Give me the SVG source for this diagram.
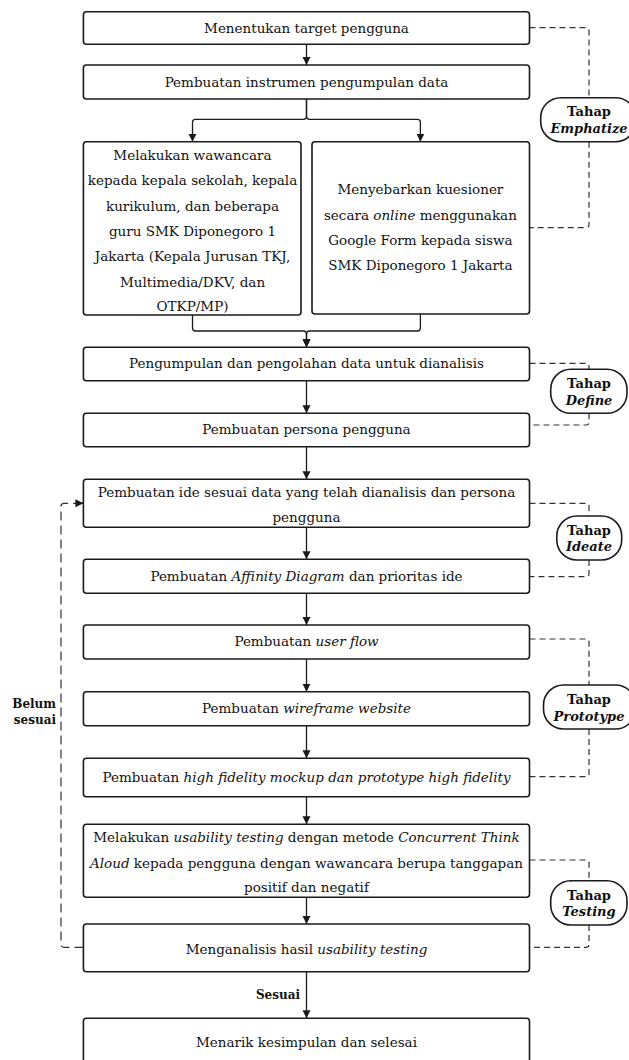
<svg xmlns="http://www.w3.org/2000/svg" width="629" height="1060" viewBox="0 0 629 1060">
<style>
.box{fill:#fff;stroke:#1a1a1a;stroke-width:1.6}
.pill{fill:#fff;stroke:#1a1a1a;stroke-width:1.6}
.t{font-family:"DejaVu Serif","Liberation Serif",serif;font-size:13.5px;fill:#111;text-anchor:middle}
.p{font-family:"DejaVu Serif","Liberation Serif",serif;font-size:13px;font-weight:bold;fill:#111;text-anchor:middle}
.lbl{font-family:"DejaVu Serif","Liberation Serif",serif;font-size:12px;font-weight:bold;fill:#111}
.i{font-style:italic}
.c{fill:none;stroke:#1a1a1a;stroke-width:1.3}
.d{fill:none;stroke:#333;stroke-width:1.2;stroke-dasharray:6 4}
.dl{fill:none;stroke:#333;stroke-width:1.2;stroke-dasharray:9 5}
</style>
<defs>
<marker id="arr" markerUnits="userSpaceOnUse" markerWidth="8" markerHeight="9" refX="8" refY="4" orient="auto">
<path d="M0,0 L8,4 L0,8 Z" fill="#1a1a1a"/>
</marker>
</defs>
<rect width="629" height="1060" fill="#fff"/>
<g id="connectors">
<path class="c" d="M306.5,44.3 V65" marker-end="url(#arr)"/>
<path class="c" d="M306.5,99 V116.3 Q306.5,119.3 303.5,119.3 H195.5 Q192.5,119.3 192.5,122.3 V141.7" marker-end="url(#arr)"/>
<path class="c" d="M306.5,99 V116.3 Q306.5,119.3 309.5,119.3 H417.4 Q420.4,119.3 420.4,122.3 V141.7" marker-end="url(#arr)"/>
<path class="c" d="M192.5,315 V328 Q192.5,331 195.5,331 H303.5 Q306.5,331 306.5,334 V347.3" marker-end="url(#arr)"/>
<path class="c" d="M420.4,314 V328 Q420.4,331 417.4,331 H309.5 Q306.5,331 306.5,334 V347.3" marker-end="url(#arr)"/>
<path class="c" d="M306.5,380.7 V413.3" marker-end="url(#arr)"/>
<path class="c" d="M306.5,446.7 V479.3" marker-end="url(#arr)"/>
<path class="c" d="M306.5,527.3 V559.3" marker-end="url(#arr)"/>
<path class="c" d="M306.5,593.3 V625" marker-end="url(#arr)"/>
<path class="c" d="M306.5,659 V691.7" marker-end="url(#arr)"/>
<path class="c" d="M306.5,725.7 V758.3" marker-end="url(#arr)"/>
<path class="c" d="M306.5,796.7 V824.3" marker-end="url(#arr)"/>
<path class="c" d="M306.5,897.3 V924" marker-end="url(#arr)"/>
<path class="c" d="M306.5,971.7 V1018.3" marker-end="url(#arr)"/>
<path class="dl" d="M83.4,947.3 H64 Q61,947.3 61,944.3 V506.3 Q61,503.3 64,503.3 H80" />
<path class="c" d="M76,503.3 H83.4" marker-end="url(#arr)"/>
<path class="d" d="M529.5,27.7 H586 Q589,27.7 589,30.7 V97.7"/>
<path class="d" d="M589,141.7 V224.7 Q589,227.7 586,227.7 H529.5"/>
<path class="d" d="M529.5,363.3 H586 Q589,363.3 589,366.3 V369.3"/>
<path class="d" d="M589,413.3 V422 Q589,425 586,425 H529.5"/>
<path class="d" d="M529.5,503.3 H586 Q589,503.3 589,506.3 V516"/>
<path class="d" d="M589,560 V573.7 Q589,576.7 586,576.7 H529.5"/>
<path class="d" d="M529.5,639 H586 Q589,639 589,642 V685"/>
<path class="d" d="M589,729 V773.7 Q589,776.7 586,776.7 H529.5"/>
<path class="d" d="M529.5,860 H586 Q589,860 589,863 V880.7"/>
<path class="d" d="M589,925 V944.3 Q589,947.3 586,947.3 H529.5"/>
</g>
<g id="n1"><rect class="box" x="83.4" y="11.7" width="446.1" height="32.6" rx="3"/><text class="t" x="306.5" y="32.7">Menentukan target pengguna</text></g>
<g id="n2"><rect class="box" x="83.4" y="65" width="446.1" height="34" rx="3"/><text class="t" x="306.5" y="86.7">Pembuatan instrumen pengumpulan data</text></g>
<g id="n3"><rect class="box" x="83.4" y="141.7" width="217.6" height="173.3" rx="3"/>
<text class="t" x="192.5" y="159.7">Melakukan wawancara</text>
<text class="t" x="192.5" y="185.2">kepada kepala sekolah, kepala</text>
<text class="t" x="192.5" y="210.7">kurikulum, dan beberapa</text>
<text class="t" x="192.5" y="236.2">guru SMK Diponegoro 1</text>
<text class="t" x="192.5" y="261.4">Jakarta (Kepala Jurusan TKJ,</text>
<text class="t" x="192.5" y="286.7">Multimedia/DKV, dan</text>
<text class="t" x="192.5" y="311.4">OTKP/MP)</text></g>
<g id="n4"><rect class="box" x="312" y="141.7" width="217.5" height="172.3" rx="3"/>
<text class="t" x="420.4" y="194">Menyebarkan kuesioner</text>
<text class="t" x="420.4" y="219.7">secara <tspan class="i">online</tspan> menggunakan</text>
<text class="t" x="420.4" y="244.7">Google Form kepada siswa</text>
<text class="t" x="420.4" y="270.4">SMK Diponegoro 1 Jakarta</text></g>
<g id="n5"><rect class="box" x="83.4" y="347.3" width="446.1" height="33.4" rx="3"/><text class="t" x="306.5" y="368">Pengumpulan dan pengolahan data untuk dianalisis</text></g>
<g id="n6"><rect class="box" x="83.4" y="413.3" width="446.1" height="33.4" rx="3"/><text class="t" x="306.5" y="434.2">Pembuatan persona pengguna</text></g>
<g id="n7"><rect class="box" x="83.4" y="479.3" width="446.1" height="48" rx="3"/>
<text class="t" x="306.5" y="496.7">Pembuatan ide sesuai data yang telah dianalisis dan persona</text>
<text class="t" x="306.5" y="522">pengguna</text></g>
<g id="n8"><rect class="box" x="83.4" y="559.3" width="446.1" height="34" rx="3"/><text class="t" x="306.5" y="580.7">Pembuatan <tspan class="i">Affinity Diagram</tspan> dan prioritas ide</text></g>
<g id="n9"><rect class="box" x="83.4" y="625" width="446.1" height="34" rx="3"/><text class="t" x="306.5" y="646.2">Pembuatan <tspan class="i">user flow</tspan></text></g>
<g id="n10"><rect class="box" x="83.4" y="691.7" width="446.1" height="34" rx="3"/><text class="t" x="306.5" y="713">Pembuatan <tspan class="i">wireframe website</tspan></text></g>
<g id="n11"><rect class="box" x="83.4" y="758.3" width="446.1" height="38.4" rx="3"/><text class="t" x="306.5" y="782.2">Pembuatan <tspan class="i">high fidelity mockup dan prototype high fidelity</tspan></text></g>
<g id="n12"><rect class="box" x="83.4" y="824.3" width="446.1" height="73" rx="3"/>
<text class="t" x="306.5" y="842.4">Melakukan <tspan class="i">usability testing</tspan> dengan metode <tspan class="i">Concurrent Think</tspan></text>
<text class="t" x="306.5" y="868"><tspan class="i">Aloud</tspan> kepada pengguna dengan wawancara berupa tanggapan</text>
<text class="t" x="306.5" y="892.4">positif dan negatif</text></g>
<g id="n13"><rect class="box" x="83.4" y="924" width="446.1" height="47.7" rx="3"/><text class="t" x="306.5" y="953.7">Menganalisis hasil <tspan class="i">usability testing</tspan></text></g>
<g id="n14"><rect class="box" x="83.4" y="1018.3" width="446.1" height="60" rx="3"/><text class="t" x="306.5" y="1047.2">Menarik kesimpulan dan selesai</text></g>
<g id="s1"><rect class="pill" x="540.7" y="97.7" width="95" height="44" rx="20"/><text class="p" x="589" y="116.2">Tahap</text><text class="p i" x="589" y="132.8">Emphatize</text></g>
<g id="s2"><rect class="pill" x="550.7" y="369.3" width="76.3" height="44" rx="20"/><text class="p" x="589" y="387.8">Tahap</text><text class="p i" x="589" y="404.5">Define</text></g>
<g id="s3"><rect class="pill" x="556.8" y="516" width="64.9" height="44" rx="20"/><text class="p" x="589" y="534.5">Tahap</text><text class="p i" x="589" y="551.2">Ideate</text></g>
<g id="s4"><rect class="pill" x="543.5" y="685" width="92" height="44" rx="20"/><text class="p" x="589" y="703.5">Tahap</text><text class="p i" x="589" y="720.5">Prototype</text></g>
<g id="s5"><rect class="pill" x="550.7" y="880.7" width="76.3" height="44.3" rx="20"/><text class="p" x="589" y="899.5">Tahap</text><text class="p i" x="589" y="916.2">Testing</text></g>
<g id="labels">
<text class="lbl" x="56" y="707.5" text-anchor="end">Belum</text>
<text class="lbl" x="56" y="724" text-anchor="end">sesuai</text>
<text class="lbl" x="300" y="999" text-anchor="end">Sesuai</text>
</g>
</svg>
